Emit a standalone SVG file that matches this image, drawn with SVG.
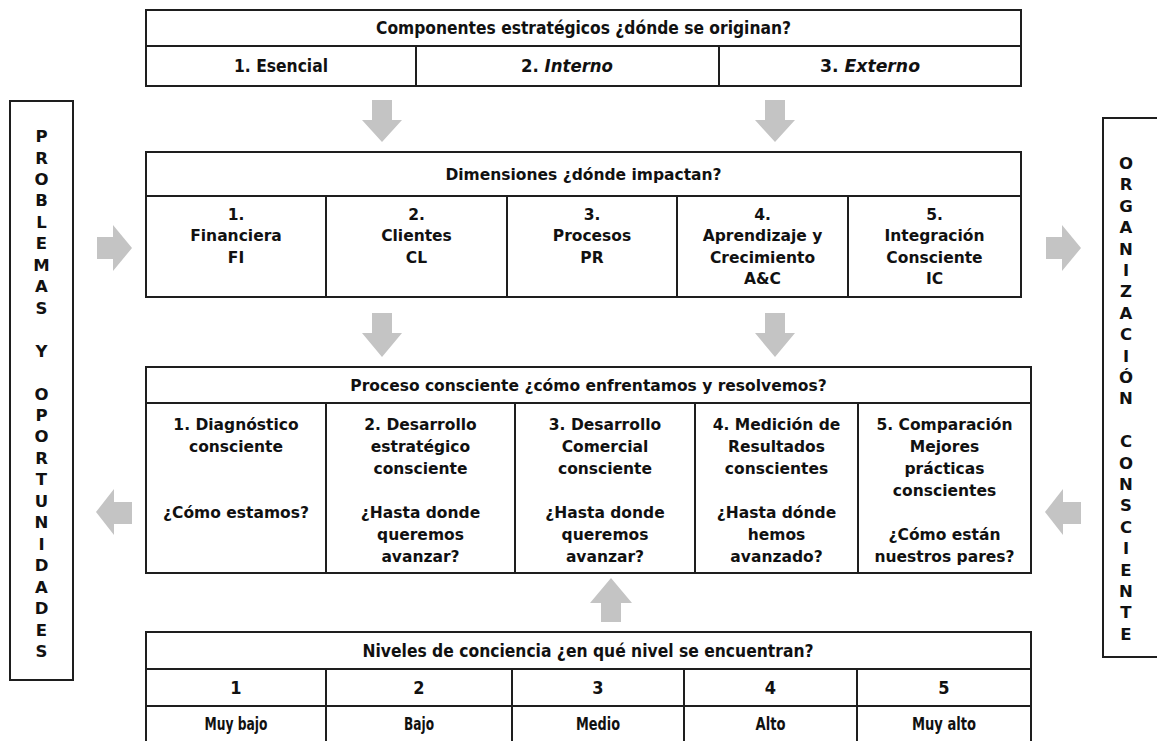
<svg xmlns="http://www.w3.org/2000/svg" width="1157" height="741" viewBox="0 0 1157 741">
<style>
.bg{fill:#ffffff}
.box{fill:#ffffff;stroke:#1e1e1e;stroke-width:2}
.ln{stroke:#1e1e1e;stroke-width:2;fill:none}
.arr{fill:#c4c4c4;stroke:none}
.t{font-family:"DejaVu Sans",Verdana,sans-serif;font-weight:bold;font-size:15.5px;fill:#111;text-anchor:middle}
.c{font-family:"DejaVu Sans Condensed","DejaVu Sans",sans-serif;font-weight:bold;font-size:18px;fill:#111;text-anchor:middle}
.v{font-family:"DejaVu Sans",Verdana,sans-serif;font-weight:bold;font-size:16.5px;fill:#111;text-anchor:middle}
</style>
<rect class="bg" x="0" y="0" width="1157" height="741"/>

<g id="side-left">
<rect class="box" x="10" y="101" width="63" height="579"/>
<text class="v">
<tspan x="41.5" y="142">P</tspan><tspan x="41.5" y="163.5">R</tspan><tspan x="41.5" y="184.9">O</tspan><tspan x="41.5" y="206.4">B</tspan><tspan x="41.5" y="227.8">L</tspan><tspan x="41.5" y="249.3">E</tspan><tspan x="41.5" y="270.7">M</tspan><tspan x="41.5" y="292.2">A</tspan><tspan x="41.5" y="313.7">S</tspan><tspan x="41.5" y="356.6">Y</tspan><tspan x="41.5" y="399.5">O</tspan><tspan x="41.5" y="420.9">P</tspan><tspan x="41.5" y="442.4">O</tspan><tspan x="41.5" y="463.8">R</tspan><tspan x="41.5" y="485.3">T</tspan><tspan x="41.5" y="506.7">U</tspan><tspan x="41.5" y="528.2">N</tspan><tspan x="41.5" y="549.7">I</tspan><tspan x="41.5" y="571.1">D</tspan><tspan x="41.5" y="592.6">A</tspan><tspan x="41.5" y="614">D</tspan><tspan x="41.5" y="635.5">E</tspan><tspan x="41.5" y="656.9">S</tspan>
</text>
</g>

<g id="side-right">
<rect class="box" x="1103" y="118" width="70" height="539"/>
<text class="v">
<tspan x="1126" y="169">O</tspan><tspan x="1126" y="190.4">R</tspan><tspan x="1126" y="211.8">G</tspan><tspan x="1126" y="233.2">A</tspan><tspan x="1126" y="254.6">N</tspan><tspan x="1126" y="276">I</tspan><tspan x="1126" y="297.4">Z</tspan><tspan x="1126" y="318.8">A</tspan><tspan x="1126" y="340.2">C</tspan><tspan x="1126" y="361.6">I</tspan><tspan x="1126" y="383">Ó</tspan><tspan x="1126" y="404.4">N</tspan><tspan x="1126" y="447.2">C</tspan><tspan x="1126" y="468.6">O</tspan><tspan x="1126" y="490">N</tspan><tspan x="1126" y="511.4">S</tspan><tspan x="1126" y="532.8">C</tspan><tspan x="1126" y="554.2">I</tspan><tspan x="1126" y="575.6">E</tspan><tspan x="1126" y="597">N</tspan><tspan x="1126" y="618.4">T</tspan><tspan x="1126" y="639.8">E</tspan>
</text>
</g>

<g id="componentes">
<rect class="box" x="146" y="10" width="875" height="76"/>
<line class="ln" x1="146" y1="46" x2="1021" y2="46"/>
<line class="ln" x1="416" y1="46" x2="416" y2="86"/>
<line class="ln" x1="719" y1="46" x2="719" y2="86"/>
<text class="c" x="583.5" y="34" textLength="415" lengthAdjust="spacingAndGlyphs">Componentes estratégicos ¿dónde se originan?</text>
<text class="c" x="281" y="72" textLength="94" lengthAdjust="spacingAndGlyphs">1. Esencial</text>
<text class="c" x="567" y="72" textLength="92" lengthAdjust="spacingAndGlyphs">2. <tspan font-style="italic">Interno</tspan></text>
<text class="c" x="870" y="72" textLength="100" lengthAdjust="spacingAndGlyphs">3. <tspan font-style="italic">Externo</tspan></text>
</g>

<g id="dimensiones">
<rect class="box" x="146" y="152" width="875" height="145"/>
<line class="ln" x1="146" y1="196" x2="1021" y2="196"/>
<line class="ln" x1="326" y1="196" x2="326" y2="297"/>
<line class="ln" x1="507" y1="196" x2="507" y2="297"/>
<line class="ln" x1="677" y1="196" x2="677" y2="297"/>
<line class="ln" x1="848" y1="196" x2="848" y2="297"/>
<text class="t" x="583.5" y="180">Dimensiones ¿dónde impactan?</text>
<text class="t"><tspan x="236" y="219.5">1.</tspan><tspan x="236" y="241">Financiera</tspan><tspan x="236" y="262.5">FI</tspan></text>
<text class="t"><tspan x="416.5" y="219.5">2.</tspan><tspan x="416.5" y="241">Clientes</tspan><tspan x="416.5" y="262.5">CL</tspan></text>
<text class="t"><tspan x="592" y="219.5">3.</tspan><tspan x="592" y="241">Procesos</tspan><tspan x="592" y="262.5">PR</tspan></text>
<text class="t"><tspan x="762.5" y="219.5">4.</tspan><tspan x="762.5" y="241">Aprendizaje y</tspan><tspan x="762.5" y="262.5">Crecimiento</tspan><tspan x="762.5" y="284">A&amp;C</tspan></text>
<text class="t"><tspan x="934.5" y="219.5">5.</tspan><tspan x="934.5" y="241">Integración</tspan><tspan x="934.5" y="262.5">Consciente</tspan><tspan x="934.5" y="284">IC</tspan></text>
</g>

<g id="proceso">
<rect class="box" x="146" y="367" width="885" height="206"/>
<line class="ln" x1="146" y1="403" x2="1031" y2="403"/>
<line class="ln" x1="326" y1="403" x2="326" y2="573"/>
<line class="ln" x1="515" y1="403" x2="515" y2="573"/>
<line class="ln" x1="695" y1="403" x2="695" y2="573"/>
<line class="ln" x1="858" y1="403" x2="858" y2="573"/>
<text class="t" x="588.5" y="390.5">Proceso consciente ¿cómo enfrentamos y resolvemos?</text>
<text class="t"><tspan x="236" y="429.5">1. Diagnóstico</tspan><tspan x="236" y="451.5">consciente</tspan><tspan x="236" y="517.5">¿Cómo estamos?</tspan></text>
<text class="t"><tspan x="420.5" y="429.5">2. Desarrollo</tspan><tspan x="420.5" y="451.5">estratégico</tspan><tspan x="420.5" y="473.5">consciente</tspan><tspan x="420.5" y="517.5">¿Hasta donde</tspan><tspan x="420.5" y="539.5">queremos</tspan><tspan x="420.5" y="561.5">avanzar?</tspan></text>
<text class="t"><tspan x="605" y="429.5">3. Desarrollo</tspan><tspan x="605" y="451.5">Comercial</tspan><tspan x="605" y="473.5">consciente</tspan><tspan x="605" y="517.5">¿Hasta donde</tspan><tspan x="605" y="539.5">queremos</tspan><tspan x="605" y="561.5">avanzar?</tspan></text>
<text class="t"><tspan x="776.5" y="429.5">4. Medición de</tspan><tspan x="776.5" y="451.5">Resultados</tspan><tspan x="776.5" y="473.5">conscientes</tspan><tspan x="776.5" y="517.5">¿Hasta dónde</tspan><tspan x="776.5" y="539.5">hemos</tspan><tspan x="776.5" y="561.5">avanzado?</tspan></text>
<text class="t"><tspan x="944.5" y="429.5">5. Comparación</tspan><tspan x="944.5" y="451.5">Mejores</tspan><tspan x="944.5" y="473.5">prácticas</tspan><tspan x="944.5" y="495.5">conscientes</tspan><tspan x="944.5" y="539.5">¿Cómo están</tspan><tspan x="944.5" y="561.5">nuestros pares?</tspan></text>
</g>

<g id="niveles">
<rect class="box" x="146" y="632" width="885" height="120"/>
<line class="ln" x1="146" y1="669" x2="1031" y2="669"/>
<line class="ln" x1="146" y1="706" x2="1031" y2="706"/>
<line class="ln" x1="326" y1="669" x2="326" y2="745"/>
<line class="ln" x1="512" y1="669" x2="512" y2="745"/>
<line class="ln" x1="684" y1="669" x2="684" y2="745"/>
<line class="ln" x1="857" y1="669" x2="857" y2="745"/>
<text class="c" x="588" y="656.5" textLength="451" lengthAdjust="spacingAndGlyphs">Niveles de conciencia ¿en qué nivel se encuentran?</text>
<text class="c" x="236" y="693.5">1</text>
<text class="c" x="419" y="693.5">2</text>
<text class="c" x="598" y="693.5">3</text>
<text class="c" x="770.5" y="693.5">4</text>
<text class="c" x="944" y="693.5">5</text>
<text class="c" x="236" y="729.5" textLength="63" lengthAdjust="spacingAndGlyphs">Muy bajo</text>
<text class="c" x="419" y="729.5" textLength="30" lengthAdjust="spacingAndGlyphs">Bajo</text>
<text class="c" x="598" y="729.5" textLength="44" lengthAdjust="spacingAndGlyphs">Medio</text>
<text class="c" x="770.5" y="729.5" textLength="30" lengthAdjust="spacingAndGlyphs">Alto</text>
<text class="c" x="944" y="729.5" textLength="64" lengthAdjust="spacingAndGlyphs">Muy alto</text>
</g>

<g id="connectors">
<polygon class="arr" points="372,100 392,100 392,120 402,120 382,142 362,120 372,120"/>
<polygon class="arr" points="765,100 785,100 785,120 795,120 775,142 755,120 765,120"/>
<polygon class="arr" points="372,313 392,313 392,333 402,333 382,357 362,333 372,333"/>
<polygon class="arr" points="765,313 785,313 785,333 795,333 775,357 755,333 765,333"/>
<polygon class="arr" points="601,622 621,622 621,603 632,603 611,578 590,603 601,603"/>
<polygon class="arr" points="97,237 113,237 113,225 132,248 113,271 113,259 97,259"/>
<polygon class="arr" points="132,502 114,502 114,489 96,512 114,535 114,524 132,524"/>
<polygon class="arr" points="1046,237 1062,237 1062,225 1081,248 1062,271 1062,259 1046,259"/>
<polygon class="arr" points="1081,502 1063,502 1063,489 1045,512 1063,535 1063,524 1081,524"/>
</g>
</svg>
